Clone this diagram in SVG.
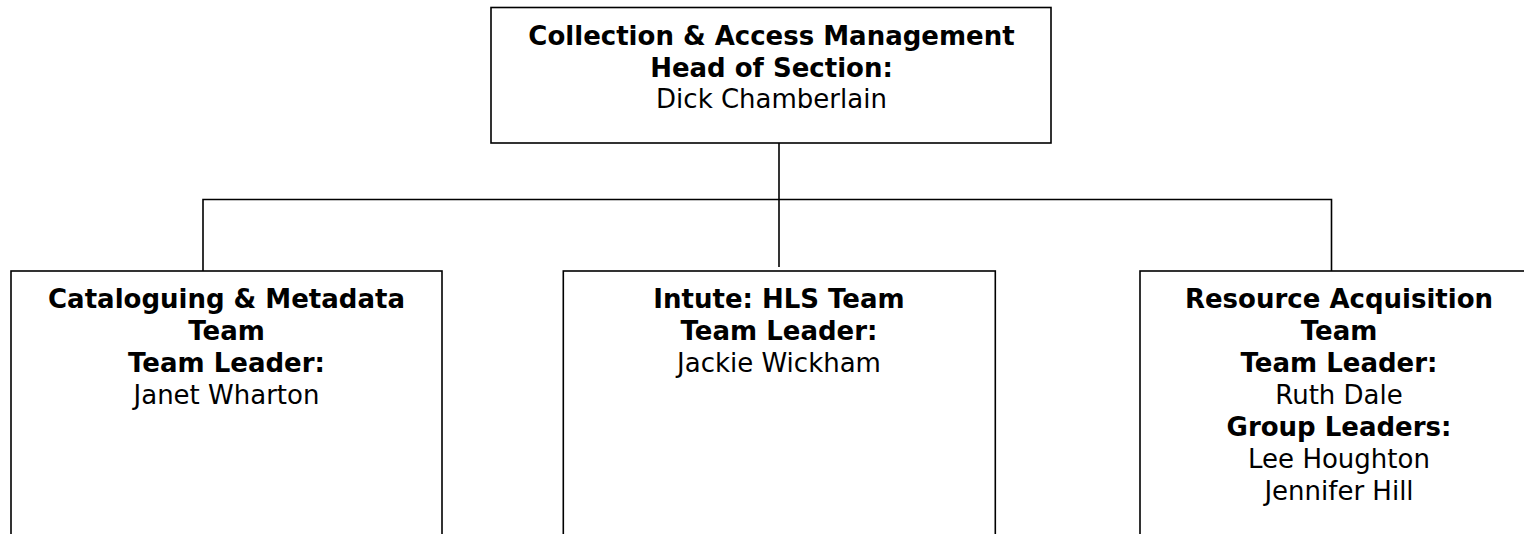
<svg xmlns="http://www.w3.org/2000/svg" width="1524" height="534" viewBox="0 0 1524 534">
<style>
  .box { fill: #ffffff; stroke: #000000; stroke-width: 1.6; }
  .conn { fill: none; stroke: #000000; stroke-width: 1.6; }
  text { font-family: "DejaVu Sans", Verdana, sans-serif; font-size: 26px; fill: #000000; text-anchor: middle; }
  .b { font-weight: bold; }
</style>
<rect x="0" y="0" width="1524" height="534" fill="#ffffff"/>
<g id="connectors">
  <path class="conn" d="M779 143 V267"/>
  <path class="conn" d="M203 271 V199.5 H1331.5 V271"/>
</g>
<g id="node-head">
  <rect class="box" x="491" y="7.5" width="560" height="135.5"/>
  <text class="b" x="771.5" y="45">Collection &amp; Access Management</text>
  <text class="b" x="771.5" y="76.5">Head of Section:</text>
  <text x="771.5" y="108">Dick Chamberlain</text>
</g>
<g id="node-cataloguing">
  <rect class="box" x="11" y="271" width="431" height="300"/>
  <text class="b" x="226.5" y="308">Cataloguing &amp; Metadata</text>
  <text class="b" x="226.5" y="340">Team</text>
  <text class="b" x="226.5" y="372">Team Leader:</text>
  <text x="226.5" y="404">Janet Wharton</text>
</g>
<g id="node-intute">
  <rect class="box" x="563.3" y="271" width="432" height="300"/>
  <text class="b" x="779" y="308">Intute: HLS Team</text>
  <text class="b" x="779" y="340">Team Leader:</text>
  <text x="779" y="372">Jackie Wickham</text>
</g>
<g id="node-resource">
  <rect class="box" x="1140" y="271" width="400" height="300"/>
  <text class="b" x="1339" y="308">Resource Acquisition</text>
  <text class="b" x="1339" y="340">Team</text>
  <text class="b" x="1339" y="372">Team Leader:</text>
  <text x="1339" y="404">Ruth Dale</text>
  <text class="b" x="1339" y="436">Group Leaders:</text>
  <text x="1339" y="468">Lee Houghton</text>
  <text x="1339" y="500">Jennifer Hill</text>
</g>
</svg>
